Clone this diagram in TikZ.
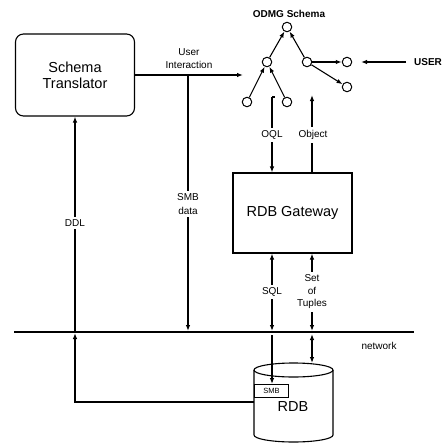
\documentclass[tikz,border=0pt]{standalone}
\usepackage{fontspec}
\setmainfont{Liberation Sans}
\usetikzlibrary{arrows.meta}
\begin{document}
\begin{tikzpicture}[x=1pt,y=-1pt, line width=1.1pt,
  >={Latex[length=6pt,width=4.5pt]},
  lbl/.style={font=\fontsize{10}{11}\selectfont, fill=white, inner xsep=1pt, inner ysep=3pt, align=center},
  tn/.style={circle,draw,minimum size=9.5pt,inner sep=0pt,line width=1pt},
  boxtext/.style={font=\fontsize{14.5}{16}\selectfont, align=center}]
\useasboundingbox (0,0) rectangle (446,444);

% boxes
\node[draw, rounded corners=8pt, minimum width=119pt, minimum height=82pt, boxtext] (st) at (75,75) {Schema\\Translator};
\node[draw, minimum width=119pt, minimum height=80pt, boxtext] (gw) at (292.5,213) {RDB Gateway};

% ODMG tree
\node[font=\bfseries\fontsize{10}{11}\selectfont] (title) at (289,14) {ODMG Schema};
\node[tn] (root) at (287,27) {};
\node[tn] (lm) at (267,62) {};
\node[tn] (rm) at (307,62) {};
\node[tn] (c1) at (347,62) {};
\node[tn] (c2) at (347,87) {};
\node[tn] (l1) at (247,102) {};
\node[tn] (l2) at (287,102) {};
\draw[->] (l1) -- (lm);
\draw[->] (l2) -- (lm);
\draw[->] (lm) -- (root);
\draw[->] (rm) -- (root);
\draw[->] (rm) -- (c1);
\draw[->] (rm) -- (c2);
\node[font=\bfseries\fontsize{10}{11}\selectfont] (user) at (428,62) {USER};
\coordinate (ua) at (361,62);
\draw[->] ([xshift=-4pt]user.west) -- (ua);

% network
\coordinate (nl) at (14,332);
\coordinate (nr) at (414,332);
\draw[line width=2.2pt] (nl) -- (nr);
\node[font=\fontsize{10}{11}\selectfont] (netl) at (379,346) {network};

% user interaction
\coordinate (uitip) at (243,75);
\draw[->] (st.east) -- (uitip);
\node[font=\fontsize{10}{13}\selectfont, align=center] (uil) at (189,59) {User\\Interaction};

% SMB data
\coordinate (sd1) at (188,75);
\coordinate (sd2) at (188,331);
\draw[->] (sd1) -- (sd2);
\node[lbl, font=\fontsize{10}{13.5}\selectfont] (sdl) at (188,204) {SMB\\data};

% OQL and Object
\coordinate (oqlt) at (272,97);
\draw (oqlt) -- ++(3,0);
\draw[->] (oqlt) -- (oqlt |- gw.north);
\coordinate (objt) at (312,95);
\draw[->] (objt |- gw.north) -- (objt);
\node[lbl] (oqll) at (272,135) {OQL};
\node[lbl] (objl) at (313,135) {Object};

% cylinder RDB
\coordinate (cyltop) at (312,363);
\coordinate (cylleft) at (254,402);
\draw (254,370) -- (254,435) arc[start angle=180, end angle=360, x radius=39.5pt, y radius=7pt] -- (333,370);
\draw (293.5,370) ellipse[x radius=39.5pt, y radius=7pt];
\node[draw, line width=0.8pt, minimum width=34pt, minimum height=13pt, inner sep=0pt, font=\fontsize{7.5}{8}\selectfont, anchor=north west] (smb) at (254,384) {SMB};
\node[font=\fontsize{14.5}{16}\selectfont] (rdb) at (293,407) {RDB};

% SQL
\coordinate (sqln) at (272,331);
\coordinate (sqlm) at (272,335);
\draw[<->] (sqln) -- (sqln |- gw.south);
\draw[->] (sqlm) -- (sqlm |- smb.north);
\node[lbl] (sqll) at (272,292) {SQL};

% Set of Tuples
\coordinate (stn) at (312,331);
\coordinate (stm) at (312,334);
\draw[<->] (stn) -- (stn |- gw.south);
\draw[<->] (stm) -- (cyltop);
\node[lbl, font=\fontsize{10}{12.5}\selectfont] (stl) at (312,292) {Set\\of\\Tuples};

% DDL
\coordinate (ddln) at (75,333);
\draw[->] (cylleft) -| (ddln);
\draw[->] (ddln) -- (st.south);
\node[lbl] (ddll) at (75,223) {DDL};
\end{tikzpicture}
\end{document}
